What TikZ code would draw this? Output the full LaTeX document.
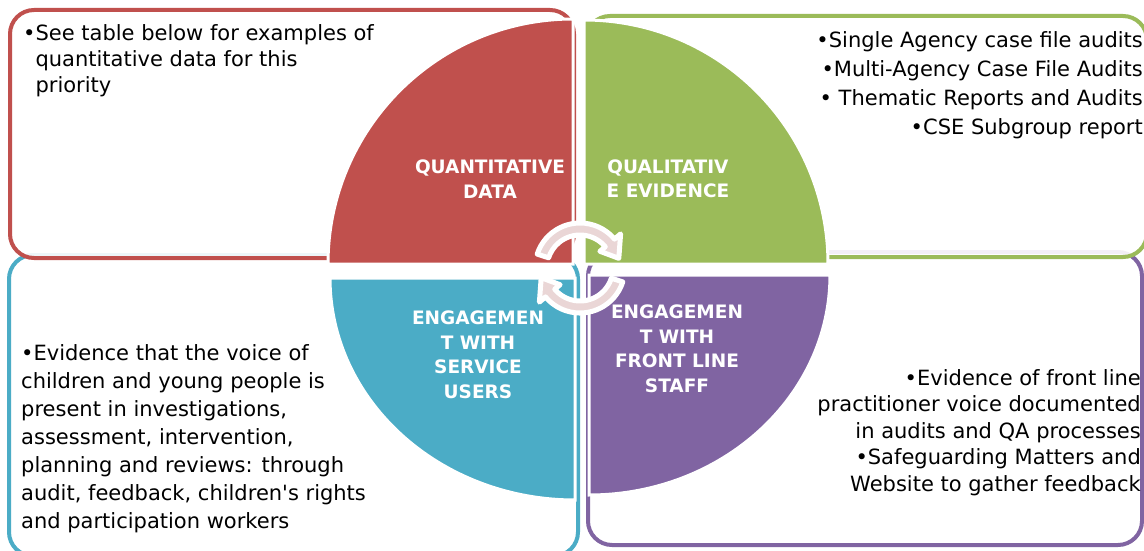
\documentclass[tikz,border=0pt]{standalone}
\usepackage{fontspec}
\setmainfont{DejaVu Sans}[Ligatures=TeXOff]
\usepackage{xcolor}
\definecolor{qred}{HTML}{C0504D}
\definecolor{qgreen}{HTML}{9BBB59}
\definecolor{qteal}{HTML}{4BACC6}
\definecolor{qpurple}{HTML}{8064A2}
\definecolor{cycpink}{HTML}{EAD6D6}

\begin{document}
\begin{tikzpicture}[x=1pt,y=1pt,
  box/.style={line width=4pt,rounded corners=24pt,fill=white},
  quad/.style={draw=white,line width=3pt},
  qlabel/.style={text=white,font=\bfseries\fontsize{18.5}{24.5}\selectfont,align=center,inner sep=0pt},
  cyc/.style={fill=cycpink,draw=white,line width=5pt,line join=round}]
  \useasboundingbox (0,0) rectangle (1144,550);
  % outer boxes, the lower two first
  \draw[box,draw=qteal] (9,295) rectangle (578,-6);
  \draw[box,draw=qpurple] (588,298) rectangle (1142,5);
  \draw[box,draw=qred,fill opacity=0.9] (10,540) rectangle (574,292);
  \draw[box,draw=qgreen,fill opacity=0.9] (586,534) rectangle (1147,293);
  % the four quarters
  \filldraw[quad,fill=qred] (573,286) -- (328,286) arc[start angle=180,end angle=90,radius=245] -- cycle;
  \filldraw[quad,fill=qgreen] (584,286) -- (584,530) arc[start angle=90,end angle=0,radius=244] -- cycle;
  \filldraw[quad,fill=qteal] (575,272) -- (330,272) arc[start angle=180,end angle=270,x radius=245,y radius=222] -- cycle;
  \filldraw[quad,fill=qpurple] (589,275) -- (589,55) arc[start angle=270,end angle=360,x radius=241,y radius=220] -- cycle;
  \node[qlabel] (quant) at (490,371) {QUANTITATIVE\\DATA};
  \node[qlabel] (qual) at (668,371) {QUALITATIV\\E EVIDENCE};
  \node[qlabel] (users) at (478,195) {ENGAGEMEN\\T WITH\\SERVICE\\USERS};
  \node[qlabel] (staff) at (677,201) {ENGAGEMEN\\T WITH\\FRONT LINE\\STAFF};
  % texts in the boxes
  \node[anchor=north west,align=left,inner sep=0pt,font=\fontsize{21}{26}\selectfont] (datatext) at (23,526)
    {•See table below for examples of\\\phantom{•}quantitative data for this\\\phantom{•}priority};
  \node[anchor=north east,align=right,inner sep=0pt,font=\fontsize{21}{29}\selectfont] (evidtext) at (1143,519)
    {•Single Agency case file audits\\•Multi-Agency Case File Audits\\• Thematic Reports and Audits\\•CSE Subgroup report};
  \node[anchor=north west,align=left,inner sep=0pt,font=\fontsize{21}{28}\selectfont] (usertext) at (21,206)
    {•Evidence that the voice of\\children and young people is\\present in investigations,\\assessment, intervention,\\planning and reviews: through\\audit, feedback, children's rights\\and participation workers};
  \node[anchor=north east,align=right,inner sep=0pt,font=\fontsize{21}{26.5}\selectfont] (stafftext) at (1141,181)
    {•Evidence of front line\\practitioner voice documented\\in audits and QA processes\\•Safeguarding Matters and\\Website to gather feedback};
  % cycle arrows in the middle
  \coordinate (hub) at (580,282);
  \filldraw[cyc] ([shift={(162:45)}]hub) arc[start angle=162,end angle=40,radius=45]
    -- ([shift={(40:53)}]hub) -- ([shift={(14:40)}]hub) -- ([shift={(40:26)}]hub)
    -- ([shift={(40:33)}]hub) arc[start angle=40,end angle=162,radius=33] -- cycle;
  \filldraw[cyc] ([shift={(342:45)}]hub) arc[start angle=342,end angle=220,radius=45]
    -- ([shift={(220:53)}]hub) -- ([shift={(194:40)}]hub) -- ([shift={(220:26)}]hub)
    -- ([shift={(220:33)}]hub) arc[start angle=220,end angle=342,radius=33] -- cycle;
\end{tikzpicture}
\end{document}
